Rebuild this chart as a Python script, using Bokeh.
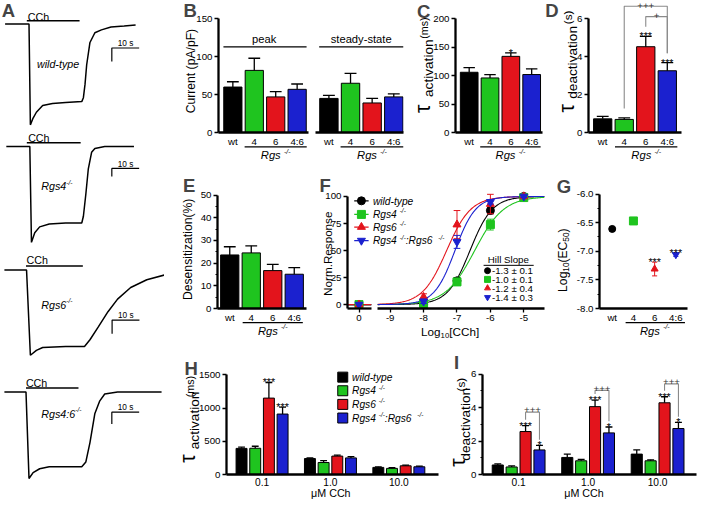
import numpy as np
from bokeh.plotting import figure
from bokeh.layouts import row, column
from bokeh.models import Range1d, FixedTicker, Label, ColumnDataSource, GridBox
from bokeh.embed import file_html
from bokeh.resources import INLINE
from bokeh.core.properties import value

FONT = "Liberation Sans"
SX, SY = 697 / 713, 500 / 516
SF = (SX + SY) / 2

# ---------------- data ----------------
genotypes = ["wt", "4", "6", "4:6"]
colors = ["#000000", "#1fc41f", "#e3141c", "#1b21cf"]

# A: example current traces (time in s, current normalised, baseline = 0)
t_wt = [0.25, 9.0, 9.5, 10.5, 11.7, 14.0, 17.6, 22.4, 28.3, 28.9, 29.5, 30.1, 31.3, 33.1, 35.5, 39.0, 43.8, 48.0]
cur_wt = [0, 0, -1.04, -0.97, -0.91, -0.84, -0.82, -0.81, -0.80, -0.76, -0.62, -0.42, -0.19, -0.09, -0.06, -0.03, -0.02, -0.01]
t_r4 = [0.7, 9.3, 9.9, 11.1, 12.9, 16.4, 22.4, 28.3, 28.9, 29.8, 30.7, 31.9, 33.1, 36.7, 47.4]
cur_r4 = [0, 0, -0.99, -0.89, -0.83, -0.80, -0.79, -0.79, -0.72, -0.49, -0.23, -0.06, -0.02, 0, 0]
t_r6 = [0, 8.1, 9.5, 11.7, 14.0, 22.4, 29.3, 31.3, 34.3, 37.9, 41.4, 46.2, 52.1, 58.7]
cur_r6 = [0, 0, -0.88, -0.83, -0.80, -0.79, -0.79, -0.72, -0.59, -0.43, -0.30, -0.18, -0.10, -0.05]
t_r46 = [0, 7.9, 9.0, 10.5, 12.9, 16.4, 28.3, 29.8, 31.3, 33.1, 34.9, 36.7, 41.4, 57.5]
cur_r46 = [0, 0, -0.89, -0.83, -0.79, -0.77, -0.77, -0.72, -0.52, -0.22, -0.09, -0.02, 0, 0]
cch_on = [8.2, 8.2, 7.9, 7.9]
cch_off = [27.5, 27.9, 28.7, 27.1]
cch_level = [0.033, 0.04, 0.043, 0.043]
scale_t0 = [39.3, 39.3, 39.4, 39.3]
scale_len_s = 10

# B: current density (pA/pF)
peak_mean = [60, 82, 47, 57]
peak_sem = [7, 16, 7, 7]
ss_mean = [45, 65, 39, 47]
ss_sem = [4, 13, 6, 4]
# C: tau activation (ms)
act_mean = [106, 96, 134, 102]
act_sem = [8, 6, 6, 10]
act_sig = ["", "", "*", ""]
# D: tau deactivation (s)
deact_mean = [0.72, 0.69, 4.53, 3.26]
deact_sem = [0.13, 0.08, 0.55, 0.43]
deact_sig = ["", "", "***", "***"]
d_br_left = [2, 3]
d_br_right = [4, 4]
d_br_top = [6.67, 6.12]
d_br_text = ["+++", "+"]
# E: desensitization (%)
desens_mean = [23.6, 24.5, 16.7, 15.1]
desens_sem = [3.6, 3.1, 2.7, 2.9]
# F: concentration-response
log_cch = [-8, -7, -6, -5]
resp_wt = [0, 22, 87, 100]
resp_r4 = [1, 21, 74, 99]
resp_r6 = [7, 74, 93, 100]
resp_r46 = [3, 58, 95, 100]
sem_wt = [1, 3, 3, 1]
sem_r4 = [1, 3, 5, 1]
sem_r6 = [3, 13, 9, 1]
sem_r46 = [2, 6, 2, 1]
ctrl_resp = [0, 0, 0, 0]
hill_slope = [-1.3, -1.0, -1.2, -1.4]
hill_slope_sem = [0.1, 0.1, 0.4, 0.3]
# G: log10 EC50
log_ec50 = [-6.61, -6.47, -7.31, -7.06]
log_ec50_sem = [0.03, 0.03, 0.12, 0.03]
ec50_sig = ["", "", "***", "***"]
# H: tau activation vs CCh (ms)
conc_labels = ["0.1", "1.0", "10.0"]
h_wt = [393, 240, 107]
h_r4 = [395, 180, 92]
h_r6 = [1150, 277, 131]
h_r46 = [910, 250, 116]
h_wt_sem = [19, 10, 9]
h_r4_sem = [30, 30, 10]
h_r6_sem = [235, 14, 10]
h_r46_sem = [105, 20, 10]
h_sig_r6 = ["***", "", ""]
h_sig_r46 = ["***", "", ""]
# I: tau deactivation vs CCh (s)
i_wt = [0.57, 1.02, 1.22]
i_r4 = [0.45, 0.82, 0.82]
i_r6 = [2.57, 4.06, 4.29]
i_r46 = [1.47, 2.49, 2.75]
i_wt_sem = [0.06, 0.20, 0.25]
i_r4_sem = [0.06, 0.08, 0.06]
i_r6_sem = [0.35, 0.39, 0.36]
i_r46_sem = [0.27, 0.35, 0.37]
i_sig_r6 = ["***", "***", "***"]
i_sig_r46 = ["*", "*", "*"]
i_br_top = [3.73, 5.03, 5.42]
i_br_text = ["+++", "+++", "+++"]

# ---------------- helpers ----------------
EM = {'R': .722, 'g': .556, 's': .5, '4': .556, '6': .556, ':': .278, ' ': .278, '-': .333, '/': .278,
      'L': .556, 'o': .556, '1': .556, '0': .556, '5': .556, '[': .278, ']': .278, 'C': .722, 'h': .556,
      '(': .333, ')': .333, 'E': .667, 'w': .722, 'i': .222, 'l': .222, 'd': .556, 't': .278, 'y': .5,
      'p': .556, 'e': .556, 'a': .556, 'c': .5, 'v': .5, 'n': .556, 'm': .833, 'τ': .47, 'D': .722,
      'z': .5, '%': .889, 'N': .722, 'r': .333, '.': .278, 'u': .556, 'A': .667, 'F': .611, 'μ': .576,
      'M': .833}


def tw(s, size):
    return sum(EM.get(c, .556) for c in s) * size


def cds(**cols):
    return ColumnDataSource(data={k: list(v) for k, v in cols.items()})


class Panel:
    def __init__(self, box, frame, xr, yr, xaxis=True, yaxis=True):
        X0, Y0, X1, Y1 = box
        fx0, fy0, fx1, fy1 = frame
        W = round(X1 * SX) - round(X0 * SX)
        H = round(Y1 * SY) - round(Y0 * SY)
        self.p = figure(width=W, height=H, x_range=Range1d(*xr), y_range=Range1d(*yr),
                        output_backend="svg", toolbar_location=None,
                        x_axis_location="below" if xaxis else None,
                        y_axis_location="left" if yaxis else None,
                        min_border_left=round(fx0 * SX) - round(X0 * SX),
                        min_border_right=round(X1 * SX) - round(fx1 * SX),
                        min_border_top=round(fy0 * SY) - round(Y0 * SY),
                        min_border_bottom=round(Y1 * SY) - round(fy1 * SY))
        self.p.outline_line_color = None
        self.p.grid.visible = False
        self.p.background_fill_color = "white"
        self.p.border_fill_color = "white"
        self.f, self.xr, self.yr = frame, xr, yr

    def X(self, px):
        fx0, _, fx1, _ = self.f
        return self.xr[0] + (px - fx0) / (fx1 - fx0) * (self.xr[1] - self.xr[0])

    def Y(self, py):
        _, fy0, _, fy1 = self.f
        return self.yr[1] - (py - fy0) / (fy1 - fy0) * (self.yr[1] - self.yr[0])

    def PX(self, x):
        fx0, _, fx1, _ = self.f
        return fx0 + (x - self.xr[0]) / (self.xr[1] - self.xr[0]) * (fx1 - fx0)

    def PY(self, y):
        _, fy0, _, fy1 = self.f
        return fy0 + (self.yr[1] - y) / (self.yr[1] - self.yr[0]) * (fy1 - fy0)

    def lines(self, xs, ys, **kw):
        self.p.line(x="x", y="y", source=cds(x=xs, y=ys), **kw)


def rich(P, px, py, segs, size, style="normal", align="left", vertical=False, color="black"):
    parts = []
    for seg in segs:
        txt, kind = seg[0], seg[1]
        fs = seg[2] if len(seg) > 2 else (size if kind == "n" else size * 0.62)
        shift = {"n": 0, "sup": -0.36 * size, "sub": 0.3 * size}[kind]
        parts.append((txt, fs, shift))
    total = sum(tw(txt, fs) for txt, fs, _ in parts)
    pos = {"left": 0, "center": -total / 2, "right": -total}[align]
    for txt, fs, shift in parts:
        if vertical:
            x, y = px + shift, py - pos
        else:
            x, y = px + pos, py + shift
        P.p.add_layout(Label(x=P.X(x), y=P.Y(y), text=txt, text_font=FONT,
                             text_font_size=f"{fs * SF:.2f}px", text_font_style=style,
                             text_color=color, text_align="left", text_baseline="middle",
                             angle=90 if vertical else 0, angle_units="deg"))
        pos += tw(txt, fs)


def letter(P, cx, cy, L):
    P.p.add_layout(Label(x=P.X(cx), y=P.Y(cy), text=L, text_font=FONT, text_font_style="bold",
                         text_font_size=f"{19 * SF:.1f}px", text_align="center", text_baseline="middle"))


def vtext(P, cx, cy, txt, size):
    rich(P, cx, cy, [(txt, "n")], size, align="center", vertical=True)


def style_axis(ax, ticks, labels=None, tick_out=4, minor=None, bounds=None, size=10, standoff=2):
    ax.ticker = FixedTicker(ticks=list(ticks), minor_ticks=list(minor) if minor else [])
    if labels is not None:
        ax.major_label_overrides = {tk: lb for tk, lb in zip(ticks, labels)}
    ax.axis_line_width = 2.3
    ax.axis_line_color = "black"
    ax.major_tick_in = 0
    ax.major_tick_out = tick_out
    ax.major_tick_line_width = 1.3
    ax.major_tick_line_color = "black" if tick_out else None
    ax.minor_tick_in = 0
    ax.minor_tick_out = 2
    ax.minor_tick_line_width = 1.1
    ax.minor_tick_line_color = "black" if minor else None
    ax.major_label_text_font = FONT
    ax.major_label_text_font_size = f"{size * SF:.1f}px"
    ax.major_label_text_color = "black"
    ax.major_label_standoff = standoff
    if bounds is not None:
        ax.bounds = bounds


def bar_set(P, xs, means, sems, cols, width, capw, sig=None, sig_size=11):
    xs = list(xs)
    tops = [m + s for m, s in zip(means, sems)]
    src = cds(x=xs, m=means, t=tops, c=cols,
              cl=[x - capw / 2 for x in xs], cr=[x + capw / 2 for x in xs])
    P.p.vbar(x="x", bottom=0, top="m", width=width, fill_color="c", line_color="black",
             line_width=1, source=src)
    P.p.segment(x0="x", y0="m", x1="x", y1="t", line_color="black", line_width=1.3, source=src)
    P.p.segment(x0="cl", y0="t", x1="cr", y1="t", line_color="black", line_width=1.3, source=src)
    if sig is not None:
        P.p.text(x="x", y="t", text="s", source=cds(x=xs, t=tops, s=sig), text_font=value(FONT),
                 text_font_size=value(f"{sig_size * SF:.1f}px"),
                 text_align="center", text_baseline="alphabetic", text_color="black")


def genotype_xaxis(P):
    style_axis(P.p.xaxis[0], [1, 2, 3, 4], genotypes, tick_out=0, standoff=3, size=10)


# ---- transparent overlay for texts that sit outside the plot frames (page coordinates) ----
class Overlay:
    def __init__(self):
        self.p = figure(width=697, height=500, x_range=Range1d(0, 713), y_range=Range1d(0, 516),
                        output_backend="svg", toolbar_location=None, x_axis_location=None,
                        y_axis_location=None, min_border=0, min_border_left=0, min_border_right=0,
                        min_border_top=0, min_border_bottom=0)
        self.p.outline_line_color = None
        self.p.grid.visible = False
        self.p.background_fill_alpha = 0
        self.p.border_fill_alpha = 0

    def X(self, px):
        return px

    def Y(self, py):
        return 516 - py

    def seg(self, x0, x1, py, lw=1.3):
        self.p.line(x="x", y="y", source=cds(x=[x0, x1], y=[516 - py, 516 - py]), line_color="black",
                    line_width=lw)


OV = Overlay()


def rgs_group(P, axis_py, x_from=1.55, x_to=4.45, xc=3.0):
    OV.seg(P.PX(x_from), P.PX(x_to), axis_py + 14.5)
    rich(OV, P.PX(xc), axis_py + 23, [("Rgs ", "n"), ("-/-", "sup")], 11.5, style="italic", align="center")


xs4 = [1, 2, 3, 4]

# ---------------- A: traces ----------------
A_box = [(0, 0, 168, 130), (0, 130, 168, 255), (0, 255, 168, 380), (0, 380, 168, 516)]
A_base = [24.3, 150.7, 278.3, 404.3]
A_traces = [(t_wt, cur_wt), (t_r4, cur_r4), (t_r6, cur_r6), (t_r46, cur_r46)]
A_cch_txt = [(28, 16.7), (28.3, 141.7), (26.7, 268.3), (26, 395)]
A_bar = [(49, 63), (173.3, 181.7), (330, 344), (425, 437.3)]
A_lbl = [(37.3, 65.3, [("wild-type", "n")]),
         (41.7, 191.7, [("Rgs4", "n"), ("-/-", "sup")]),
         (41.7, 314, [("Rgs6", "n"), ("-/-", "sup")]),
         (41.7, 426.7, [("Rgs4:6", "n"), ("-/-", "sup")])]
A_panels = []
for k in range(4):
    X0, Y0, X1, Y1 = A_box[k]
    b = A_base[k]
    P = Panel(A_box[k], A_box[k], (-4 / 2.8, 164 / 2.8), (-(Y1 - b) / 100, (b - Y0) / 100),
              xaxis=False, yaxis=False)
    tt, ii = A_traces[k]
    P.lines(tt, ii, line_color="black", line_width=1.5)
    P.lines([cch_on[k], cch_off[k]], [cch_level[k], cch_level[k]], line_color="black", line_width=1.5)
    rich(P, A_cch_txt[k][0], A_cch_txt[k][1], [("CCh", "n")], 11)
    by, by2 = A_bar[k]
    P.lines([scale_t0[k] + scale_len_s, scale_t0[k], scale_t0[k]], [P.Y(by), P.Y(by), P.Y(by2)],
            line_color="black", line_width=1.2)
    rich(P, P.PX(scale_t0[k] + scale_len_s / 2), by - 4.5, [("10 s", "n")], 8.5, align="center")
    lx, ly, segs = A_lbl[k]
    rich(P, lx, ly, segs, 11, style="italic")
    if k == 0:
        letter(P, 8, 10, "A")
    A_panels.append(P)

# ---------------- row 1: B, C, D (common frame top 0, bottom 136.5) ----------------
B1 = Panel((168, 0, 318, 165), (223, 0, 315, 136.5), (0.33, 4.53), (0, 174.26))
style_axis(B1.p.yaxis[0], [0, 50, 100, 150], bounds=(0, 150))
genotype_xaxis(B1)
bar_set(B1, xs4, peak_mean, peak_sem, colors, 0.85, 0.55)
B1.lines([0.56, 4.44], [113, 113], line_color="black", line_width=1.3)
rich(B1, B1.PX(2.48), B1.PY(124), [("peak", "n")], 11.5, align="center")
rich(OV, 195, 73, [("Current (pA/pF)", "n")], 12.5, align="center", vertical=True)
letter(OV, 194, 10.5, "B")
rgs_group(B1, 136.5)

B2 = Panel((318, 0, 418, 165), (322, 0, 412, 136.5), (0.38, 4.45), (0, 174.26), yaxis=False)
genotype_xaxis(B2)
bar_set(B2, xs4, ss_mean, ss_sem, colors, 0.85, 0.55)
B2.lines([0.55, 4.45], [113, 113], line_color="black", line_width=1.3)
rich(B2, B2.PX(2.5), B2.PY(124), [("steady-state", "n")], 11.5, align="center")
rgs_group(B2, 136.5)

C = Panel((418, 0, 555, 165), (465, 0, 554, 136.5), (0.343, 4.52), (0, 232.3))
style_axis(C.p.yaxis[0], [0, 50, 100, 150, 200], bounds=(0, 200))
genotype_xaxis(C)
bar_set(C, xs4, act_mean, act_sem, colors, 0.85, 0.55, sig=act_sig)
vtext(OV, 432.5, 111, "τ", 22)
vtext(OV, 437.5, 70, "activation", 14)
vtext(OV, 433.5, 28.5, "(ms)", 11)
letter(OV, 433, 11.7, "C")
rgs_group(C, 136.5)

D = Panel((555, 0, 713, 165), (602, 0, 697, 136.5), (0.34, 4.66), (0, 6.97))
style_axis(D.p.yaxis[0], [0, 2, 4, 6], bounds=(0, 6))
genotype_xaxis(D)
bar_set(D, xs4, deact_mean, deact_sem, colors, 0.85, 0.55, sig=deact_sig)
d_caps = [m + s for m, s in zip(deact_mean, deact_sem)]
for xl, xr_, top in zip(d_br_left, d_br_right, d_br_top):
    D.lines([xl, xl, xr_, xr_], [d_caps[xl - 1] + 0.5, top, top, d_caps[xr_ - 1] + 0.5],
            line_color="#8a8a8a", line_width=1.1)
D.p.text(x="x", y="y", text="s", source=cds(x=[(l + r) / 2 for l, r in zip(d_br_left, d_br_right)],
                                              y=[tp + 0.03 for tp in d_br_top], s=d_br_text),
         text_font=value(FONT), text_font_size=value(f"{10 * SF:.1f}px"),
         text_align="center", text_baseline="alphabetic", text_color="#333333")
vtext(OV, 580, 110.5, "τ", 22)
vtext(OV, 585.5, 64, "deactivation", 14)
vtext(OV, 580.5, 17.5, "(s)", 12)
letter(OV, 564, 10.5, "D")
rgs_group(D, 136.5)

# ---------------- row 2: E, F, G (common frame top 185, bottom 318) ----------------
E = Panel((168, 165, 324, 350), (222, 185, 313, 318), (0.43, 4.57), (0, 56.84))
style_axis(E.p.yaxis[0], [0, 10, 20, 30, 40, 50], minor=[5, 15, 25, 35, 45], bounds=(0, 50))
genotype_xaxis(E)
bar_set(E, xs4, desens_mean, desens_sem, colors, 0.85, 0.55)
rich(OV, 192, 257, [("Desensitization(%)", "n")], 12.5, align="center", vertical=True)
letter(OV, 193, 191, "E")
rgs_group(E, 318, 1.6, 4.4)

markers = ["circle", "square", "triangle", "inverted_triangle"]
resp_all = [resp_wt, resp_r4, resp_r6, resp_r46]
sem_all = [sem_wt, sem_r4, sem_r6, sem_r46]
F_yr = (-3.6, 115.7)
F1 = Panel((324, 165, 382, 350), (355, 185, 380, 318), (-10.35, -9.62), F_yr)
style_axis(F1.p.yaxis[0], [0, 25, 50, 75, 100], bounds=(-3.6, 100))
style_axis(F1.p.xaxis[0], [-10], ["0"], tick_out=4, standoff=2)
F2 = Panel((382, 165, 560, 350), (386, 185, 556, 318), (-9.38, -4.38), F_yr, yaxis=False)
style_axis(F2.p.xaxis[0], [-9, -8, -7, -6, -5], ["-9", "-8", "-7", "-6", "-5"], tick_out=4, standoff=2)

xfit = np.linspace(-9.38, -4.38, 200)
for k in range(4):
    yfit = 100 / (1 + 10 ** ((log_ec50[k] - xfit) * abs(hill_slope[k])))
    F2.lines(xfit, yfit, line_color=colors[k], line_width=1.1)
for k in [0, 1, 3, 2]:
    F1.lines([-10.35, -9.62], [ctrl_resp[k]] * 2, line_color=colors[k], line_width=1.1)
for k in range(4):
    c = colors[k]
    yv = resp_all[k]
    sv = sem_all[k]
    lo = [a - b for a, b in zip(yv, sv)]
    hi = [a + b for a, b in zip(yv, sv)]
    src = cds(x=log_cch, y=yv, lo=lo, hi=hi, xl=[x - 0.1 for x in log_cch], xr=[x + 0.1 for x in log_cch])
    F2.p.segment(x0="x", y0="lo", x1="x", y1="hi", line_color=c, line_width=1, source=src)
    F2.p.segment(x0="xl", y0="hi", x1="xr", y1="hi", line_color=c, line_width=1, source=src)
    F2.p.segment(x0="xl", y0="lo", x1="xr", y1="lo", line_color=c, line_width=1, source=src)
    F2.p.scatter(x="x", y="y", marker=markers[k], size=8, fill_color=c, line_color=c, source=src)
    F1.p.scatter(x="x", y="y", source=cds(x=[-10], y=[ctrl_resp[k]]), marker=markers[k], size=8,
                 fill_color=c, line_color=c)

leg_y = [207, 221, 234, 248]
leg_txt = [[("wild-type", "n")],
           [("Rgs4 ", "n"), ("-/-", "sup")],
           [("Rgs6 ", "n"), ("-/-", "sup")],
           [("Rgs4 ", "n"), ("-/-", "sup"), (" :Rgs6 ", "n"), ("-/-", "sup")]]
for k in range(4):
    yy = F1.Y(leg_y[k])
    F1.lines([F1.X(362), F1.X(377)], [yy, yy], line_color=colors[k], line_width=1.2)
    F1.p.scatter(x="x", y="y", source=cds(x=[F1.X(369.5)], y=[yy]), marker=markers[k], size=8,
                 fill_color=colors[k], line_color=colors[k])
    rich(OV, 381, leg_y[k], leg_txt[k], 10.5, style="italic")

rich(F2, 518, 267, [("Hill Slope", "n")], 10, align="center")
F2.lines([F2.X(494), F2.X(545)], [F2.Y(273.5)] * 2, line_color="black", line_width=1)
hs_y = [279, 288, 297, 306.5]
for k in range(4):
    F2.p.scatter(x="x", y="y", source=cds(x=[F2.X(498)], y=[F2.Y(hs_y[k])]), marker=markers[k], size=6,
                 fill_color=colors[k], line_color=colors[k])
    rich(F2, 502.5, hs_y[k], [(f"{hill_slope[k]:.1f} ± {hill_slope_sem[k]:.1f}", "n")], 10)
rich(OV, 335, 261.5, [("Norm.Response", "n")], 12, align="center", vertical=True)
rich(OV, 460, 342, [("Log", "n"), ("10", "sub", 8), ("[CCh]", "n")], 12, align="center")
letter(OV, 332, 191, "F")

G = Panel((560, 165, 713, 350), (613, 185, 703, 318), (0.4, 4.55), (-8, -5.746))
style_axis(G.p.yaxis[0], [-8, -7.5, -7, -6.5, -6], ["-8.0", "-7.5", "-7.0", "-6.5", "-6.0"],
           minor=[-7.75, -7.25, -6.75, -6.25], bounds=(-8, -6))
genotype_xaxis(G)
g_lo = [m - s for m, s in zip(log_ec50, log_ec50_sem)]
g_hi = [m + s for m, s in zip(log_ec50, log_ec50_sem)]
gsrc = cds(x=xs4, y=log_ec50, lo=g_lo, hi=g_hi, c=colors, xl=[x - 0.12 for x in xs4],
           xr=[x + 0.12 for x in xs4], s=ec50_sig)
G.p.segment(x0="x", y0="lo", x1="x", y1="hi", line_color="c", line_width=1, source=gsrc)
G.p.segment(x0="xl", y0="hi", x1="xr", y1="hi", line_color="c", line_width=1, source=gsrc)
G.p.segment(x0="xl", y0="lo", x1="xr", y1="lo", line_color="c", line_width=1, source=gsrc)
for k in range(4):
    G.p.scatter(x="x", y="y", source=cds(x=[xs4[k]], y=[log_ec50[k]]), marker=markers[k],
                size=8 if k == 1 else 7, fill_color=colors[k], line_color=colors[k])
G.p.text(x="x", y="hi", text="s", source=gsrc, text_font=value(FONT),
         text_font_size=value(f"{11 * SF:.1f}px"), text_align="center", text_baseline="alphabetic")
rich(OV, 575, 268, [("Log", "n"), ("10", "sub", 8.5), ("(EC", "n"), ("50", "sub", 8.5), (")", "n")], 12.5,
     align="center", vertical=True)
letter(OV, 576.5, 192, "G")
rgs_group(G, 318, 1.62, 4.42)

# ---------------- row 3: H, I ----------------
grp = [1, 2, 3]
offs = [-0.3, -0.1, 0.1, 0.3]
H = Panel((168, 350, 450, 516), (231, 375, 448, 489), (0.48, 3.58), (0, 1671))
style_axis(H.p.yaxis[0], [0, 500, 1000, 1500], bounds=(0, 1500))
style_axis(H.p.xaxis[0], grp, conc_labels, tick_out=0, standoff=3, size=10.5)
h_means = [h_wt, h_r4, h_r6, h_r46]
h_sems = [h_wt_sem, h_r4_sem, h_r6_sem, h_r46_sem]
h_sigs = [None, None, h_sig_r6, h_sig_r46]
for k in range(4):
    bar_set(H, [g + offs[k] for g in grp], h_means[k], h_sems[k], [colors[k]] * 3, 0.16, 0.1, sig=h_sigs[k])
hl_y = [389, 403, 417, 431]
for k in range(4):
    H.p.scatter(x="x", y="y", source=cds(x=[H.X(350)], y=[H.Y(hl_y[k])]), marker="square", size=10,
                fill_color=colors[k], line_color="black", line_width=1)
    rich(H, 359.5, hl_y[k], leg_txt[k], 10.5, style="italic")
vtext(OV, 192, 472, "τ", 22)
vtext(OV, 198.5, 433.5, "activation", 14)
vtext(OV, 194, 398.5, "(ms)", 11)
rich(OV, 338, 508, [("μM CCh", "n")], 11, align="center")
letter(OV, 195, 380, "H")

I = Panel((450, 350, 713, 516), (493, 375, 712, 489), (0.48, 3.56), (0, 6.64))
style_axis(I.p.yaxis[0], [0, 2, 4, 6], minor=[1, 3, 5], bounds=(0, 6))
style_axis(I.p.xaxis[0], grp, conc_labels, tick_out=0, standoff=3, size=10.5)
i_means = [i_wt, i_r4, i_r6, i_r46]
i_sems = [i_wt_sem, i_r4_sem, i_r6_sem, i_r46_sem]
i_sigs = [None, None, i_sig_r6, i_sig_r46]
for k in range(4):
    bar_set(I, [g + offs[k] for g in grp], i_means[k], i_sems[k], [colors[k]] * 3, 0.16, 0.1, sig=i_sigs[k])
r6cap = [m + s for m, s in zip(i_r6, i_r6_sem)]
r46cap = [m + s for m, s in zip(i_r46, i_r46_sem)]
for j in range(3):
    xl, xr_ = grp[j] + offs[2], grp[j] + offs[3]
    I.lines([xl, xl, xr_, xr_], [r6cap[j] + 0.36, i_br_top[j], i_br_top[j], r46cap[j] + 0.34],
            line_color="#8a8a8a", line_width=1.1)
I.p.text(x="x", y="y", text="s", source=cds(x=[g + 0.2 for g in grp], y=[tp + 0.1 for tp in i_br_top],
                                              s=i_br_text),
         text_font=value(FONT), text_font_size=value(f"{10 * SF:.1f}px"), text_align="center",
         text_baseline="alphabetic", text_color="#333333")
vtext(OV, 468.5, 476, "τ", 22)
vtext(OV, 476, 437.5, "deactivation", 14)
vtext(OV, 470.5, 396.5, "(s)", 12)
rich(OV, 597, 508, [("μM CCh", "n")], 11, align="center")
letter(OV, 466.5, 374, "I")

# ---------------- layout ----------------
colA = column(*[P.p for P in A_panels])
r1 = row(B1.p, B2.p, C.p, D.p)
r2 = row(E.p, F1.p, F2.p, G.p)
r3 = row(H.p, I.p)
main = row(colA, column(r1, r2, r3))
root = GridBox(children=[(main, 0, 0), (OV.p, 0, 0)])
open("out.html", "w").write(file_html(root, INLINE, title="Rgs figure"))
